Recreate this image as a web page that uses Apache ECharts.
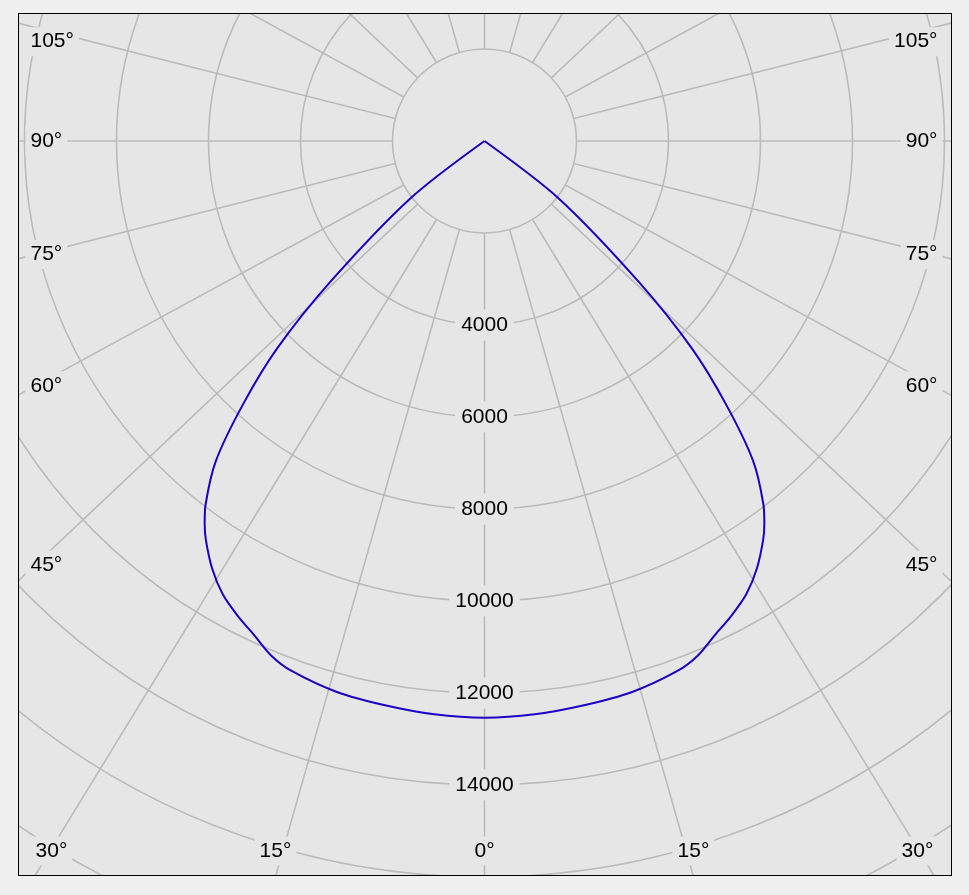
<!DOCTYPE html>
<html><head><meta charset="utf-8">
<script src="https://cdn.jsdelivr.net/npm/echarts@6/dist/echarts.min.js"></script>
<style>
html,body{margin:0;padding:0;background:#f0f0f0;width:969px;height:895px;overflow:hidden}
#box{position:absolute;left:18px;top:13px;width:932px;height:861px;border:1px solid #000;background:#e6e6e6;overflow:hidden}
#chart{width:932px;height:861px}
</style></head><body>
<div id="box"><div id="chart"></div></div>
<script>
// ---- data (angle from nadir in degrees, luminous intensity in cd) ----
const curveAngles    = [52.25, 47.6, 45, 42.5, 40, 37.5, 36.2, 35, 32.5, 30, 27.5, 25, 22.5, 20, 15, 10, 5, 0];
const curveIntensity = [2040, 4535, 6370, 7780, 9090, 9960, 10300, 10565, 11020, 11380, 11630, 11850, 12110, 12260, 12400, 12455, 12510, 12537];
const radiusTickLabels = [4000, 6000, 8000, 10000, 12000, 14000];
const sideAngleLabels   = [45, 60, 75, 90, 105];
const bottomAngleLabels = [0, 15, 30];
const gridAngles = [0,15,30,45,60,75,90,105,120,135,150,165,180,195,210,225,240,255,270,285,300,315,330,345];

// ---- layout ----
const BOX_X = 19, BOX_Y = 14;
const CX = 484.5 - BOX_X, CY = 141 - BOX_Y;
const PX_PER_CD = 0.046;
const GRID_MAX = 20000, GRID_STEP = 2000, GRID_INNER = 2000;
const X_STRETCH = 1.06;
const FONT = '"Liberation Sans", Arial, sans-serif';
const FONT_SIZE = 21;
const GRID_COLOR = '#bbbbbb', BG = '#e6e6e6';
const PAD_X = 5;

function dispAngle(t) {
  const r = t * Math.PI / 180;
  let d = Math.atan2(X_STRETCH * Math.sin(r), Math.cos(r)) * 180 / Math.PI;
  if (d < 0) d += 360;
  return d;
}

const chart = echarts.init(document.getElementById('chart'), null, {renderer: 'canvas'});

const radialSeries = gridAngles.map(a => ({
  type: 'line', coordinateSystem: 'polar', polarIndex: 0,
  data: [[GRID_INNER, dispAngle(a)], [GRID_MAX, dispAngle(a)]],
  symbol: 'none', silent: true, z: 1, animation: false,
  lineStyle: {color: GRID_COLOR, width: 1.6}
}));

const left = curveAngles.map((a, i) => [curveIntensity[i], a]);
const right = curveAngles.slice().reverse().map((a, i) =>
  [curveIntensity[curveAngles.length - 1 - i], (360 - a) % 360]);
const curveData = [[0, curveAngles[0]], ...left, ...right, [0, 360 - curveAngles[0]]];

const labelBox = {fill: '#000', font: FONT_SIZE + 'px ' + FONT, backgroundColor: BG, padding: [4, PAD_X], verticalAlign: 'middle'};
const graphics = [];
sideAngleLabels.forEach(a => {
  const cot = Math.cos(a * Math.PI / 180) / Math.sin(a * Math.PI / 180);
  const y = Math.max(41.7, 141 + 424 * cot) - BOX_Y;
  graphics.push({type: 'text', z: 30, x: 30.5 - PAD_X - BOX_X, y: y, style: Object.assign({text: a + '°', align: 'left'}, labelBox)});
  graphics.push({type: 'text', z: 30, x: 937.5 + PAD_X - BOX_X, y: y, style: Object.assign({text: a + '°', align: 'right'}, labelBox)});
});
const bottomOffsets = [0, 209, 433];
bottomAngleLabels.forEach((a, i) => {
  const y = 851 - BOX_Y;
  const sides = a === 0 ? [0] : [-1, 1];
  sides.forEach(s => graphics.push({type: 'text', z: 30, x: CX + s * bottomOffsets[i], y: y,
    style: Object.assign({text: a + '°', align: 'center'}, labelBox)}));
});

const hiddenAngle = {
  type: 'value', min: 0, max: 360, startAngle: 270, clockwise: true,
  axisLine: {show: false}, axisTick: {show: false}, axisLabel: {show: false}, splitLine: {show: false}
};

chart.setOption({
  animation: false,
  polar: [
    {center: [CX, CY], radius: [0, GRID_MAX * PX_PER_CD]},
    {center: [CX, CY], radius: [radiusTickLabels[0] * PX_PER_CD, radiusTickLabels[radiusTickLabels.length - 1] * PX_PER_CD]}
  ],
  angleAxis: [Object.assign({polarIndex: 0}, hiddenAngle), Object.assign({polarIndex: 1}, hiddenAngle)],
  radiusAxis: [
    {polarIndex: 0, type: 'value', min: 0, max: GRID_MAX, interval: GRID_STEP,
     axisLine: {show: false}, axisTick: {show: false}, axisLabel: {show: false},
     splitLine: {show: true, lineStyle: {color: GRID_COLOR, width: 1.6}}},
    {polarIndex: 1, type: 'value', z: 10,
     min: radiusTickLabels[0], max: radiusTickLabels[radiusTickLabels.length - 1],
     interval: radiusTickLabels[1] - radiusTickLabels[0],
     axisLine: {show: false}, axisTick: {show: false}, splitLine: {show: false},
     axisLabel: {show: true, margin: 0, align: 'center', verticalAlign: 'middle', color: '#000',
       formatter: v => String(v),
       fontFamily: FONT, fontSize: FONT_SIZE, backgroundColor: BG, padding: [8, 6, 2, 6]}}
  ],
  series: [
    ...radialSeries,
    {type: 'line', coordinateSystem: 'polar', polarIndex: 0, data: curveData, symbol: 'none',
     smooth: 0.3, z: 20, animation: false, silent: true, lineStyle: {color: '#1c00c4', width: 2}}
  ],
  graphic: graphics
});
</script>
</body></html>
